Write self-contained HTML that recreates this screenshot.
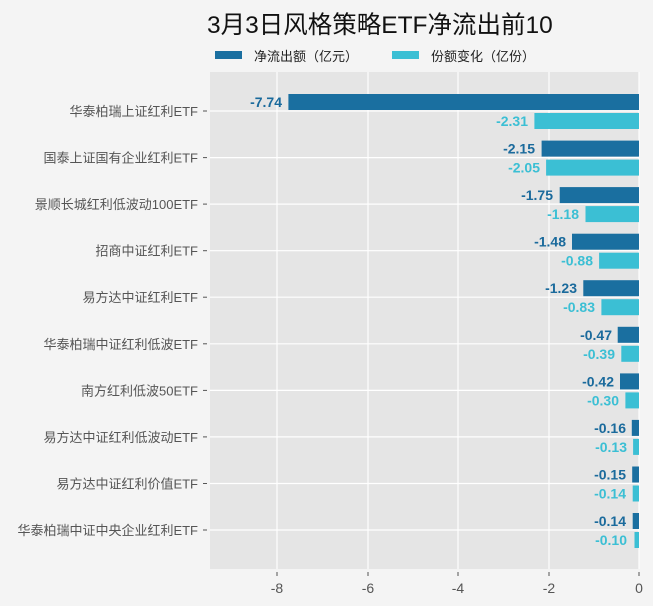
<!DOCTYPE html>
<html><head><meta charset="utf-8"><style>
html,body{margin:0;padding:0;background:#f4f4f4;}
svg{display:block;font-family:"Liberation Sans","Noto Sans CJK SC",sans-serif;}
.cat{font-size:13px;fill:#555;text-anchor:end;}
.d{font-size:14px;font-weight:bold;fill:#1a6a9c;text-anchor:end;}
.l{font-size:14px;font-weight:bold;fill:#3bbfd4;text-anchor:end;}
.t{font-size:14px;fill:#555;text-anchor:middle;}
</style></head><body>
<svg width="653" height="606" viewBox="0 0 653 606">
<rect width="653" height="606" fill="#f4f4f4"/>
<text x="207" y="33" font-size="24.5" fill="#111">3月3日风格策略ETF净流出前10</text>
<rect x="215" y="51" width="27" height="8" fill="#1a6fa0"/>
<text x="254" y="61" font-size="13" fill="#222">净流出额（亿元）</text>
<rect x="392" y="51" width="27" height="8" fill="#3bbfd4"/>
<text x="431" y="61" font-size="13" fill="#222">份额变化（亿份）</text>
<rect x="210" y="72" width="429" height="497" fill="#e5e5e5"/>
<g stroke="#fff" stroke-width="1.2">
<line x1="277" y1="72" x2="277" y2="569"/><line x1="368" y1="72" x2="368" y2="569"/>
<line x1="458" y1="72" x2="458" y2="569"/><line x1="549" y1="72" x2="549" y2="569"/>
<line x1="639" y1="72" x2="639" y2="569"/>
<line x1="210" y1="111" x2="639" y2="111"/><line x1="210" y1="157.6" x2="639" y2="157.6"/>
<line x1="210" y1="204.1" x2="639" y2="204.1"/><line x1="210" y1="250.7" x2="639" y2="250.7"/>
<line x1="210" y1="297.2" x2="639" y2="297.2"/><line x1="210" y1="343.8" x2="639" y2="343.8"/>
<line x1="210" y1="390.4" x2="639" y2="390.4"/><line x1="210" y1="436.9" x2="639" y2="436.9"/>
<line x1="210" y1="483.5" x2="639" y2="483.5"/><line x1="210" y1="530" x2="639" y2="530"/>
</g>
<g stroke="#555" stroke-width="1">
<line x1="203" y1="111" x2="207" y2="111"/><line x1="203" y1="157.6" x2="207" y2="157.6"/>
<line x1="203" y1="204.1" x2="207" y2="204.1"/><line x1="203" y1="250.7" x2="207" y2="250.7"/>
<line x1="203" y1="297.2" x2="207" y2="297.2"/><line x1="203" y1="343.8" x2="207" y2="343.8"/>
<line x1="203" y1="390.4" x2="207" y2="390.4"/><line x1="203" y1="436.9" x2="207" y2="436.9"/>
<line x1="203" y1="483.5" x2="207" y2="483.5"/><line x1="203" y1="530" x2="207" y2="530"/>
<line x1="277" y1="572" x2="277" y2="576"/><line x1="368" y1="572" x2="368" y2="576"/>
<line x1="458" y1="572" x2="458" y2="576"/><line x1="549" y1="572" x2="549" y2="576"/>
<line x1="639" y1="572" x2="639" y2="576"/>
</g>
<text class="t" x="277" y="593">-8</text><text class="t" x="368" y="593">-6</text>
<text class="t" x="458" y="593">-4</text><text class="t" x="549" y="593">-2</text>
<text class="t" x="639" y="593">0</text>
<text class="cat" x="198" y="116">华泰柏瑞上证红利ETF</text>
<text class="cat" x="198" y="162.6">国泰上证国有企业红利ETF</text>
<text class="cat" x="198" y="209.1">景顺长城红利低波动100ETF</text>
<text class="cat" x="198" y="255.7">招商中证红利ETF</text>
<text class="cat" x="198" y="302.2">易方达中证红利ETF</text>
<text class="cat" x="198" y="348.8">华泰柏瑞中证红利低波ETF</text>
<text class="cat" x="198" y="395.4">南方红利低波50ETF</text>
<text class="cat" x="198" y="441.9">易方达中证红利低波动ETF</text>
<text class="cat" x="198" y="488.5">易方达中证红利价值ETF</text>
<text class="cat" x="198" y="535">华泰柏瑞中证中央企业红利ETF</text>
<g fill="#1a6fa0">
<rect x="288.4" y="94" width="350.6" height="16"/>
<rect x="541.6" y="140.6" width="97.4" height="16"/>
<rect x="559.7" y="187.1" width="79.3" height="16"/>
<rect x="572" y="233.7" width="67" height="16"/>
<rect x="583.3" y="280.2" width="55.7" height="16"/>
<rect x="617.7" y="326.8" width="21.3" height="16"/>
<rect x="620" y="373.4" width="19" height="16"/>
<rect x="631.8" y="419.9" width="7.2" height="16"/>
<rect x="632.2" y="466.5" width="6.8" height="16"/>
<rect x="632.7" y="513" width="6.3" height="16"/>
</g>
<g fill="#3bbfd4">
<rect x="534.4" y="113" width="104.6" height="16"/>
<rect x="546.1" y="159.6" width="92.9" height="16"/>
<rect x="585.5" y="206.1" width="53.5" height="16"/>
<rect x="599.1" y="252.7" width="39.9" height="16"/>
<rect x="601.4" y="299.2" width="37.6" height="16"/>
<rect x="621.3" y="345.8" width="17.7" height="16"/>
<rect x="625.4" y="392.4" width="13.6" height="16"/>
<rect x="633.1" y="438.9" width="5.9" height="16"/>
<rect x="632.7" y="485.5" width="6.3" height="16"/>
<rect x="634.5" y="532" width="4.5" height="16"/>
</g>
<text class="d" x="282" y="107">-7.74</text>
<text class="d" x="535" y="153.6">-2.15</text>
<text class="d" x="553" y="200.1">-1.75</text>
<text class="d" x="566" y="246.7">-1.48</text>
<text class="d" x="577" y="293.2">-1.23</text>
<text class="d" x="612" y="339.8">-0.47</text>
<text class="d" x="614" y="386.4">-0.42</text>
<text class="d" x="626" y="432.9">-0.16</text>
<text class="d" x="626" y="479.5">-0.15</text>
<text class="d" x="626" y="526">-0.14</text>
<text class="l" x="528" y="126">-2.31</text>
<text class="l" x="540" y="172.6">-2.05</text>
<text class="l" x="579" y="219.1">-1.18</text>
<text class="l" x="593" y="265.7">-0.88</text>
<text class="l" x="595" y="312.2">-0.83</text>
<text class="l" x="615" y="358.8">-0.39</text>
<text class="l" x="619" y="405.4">-0.30</text>
<text class="l" x="627" y="451.9">-0.13</text>
<text class="l" x="626" y="498.5">-0.14</text>
<text class="l" x="627" y="545">-0.10</text>
</svg>
</body></html>
